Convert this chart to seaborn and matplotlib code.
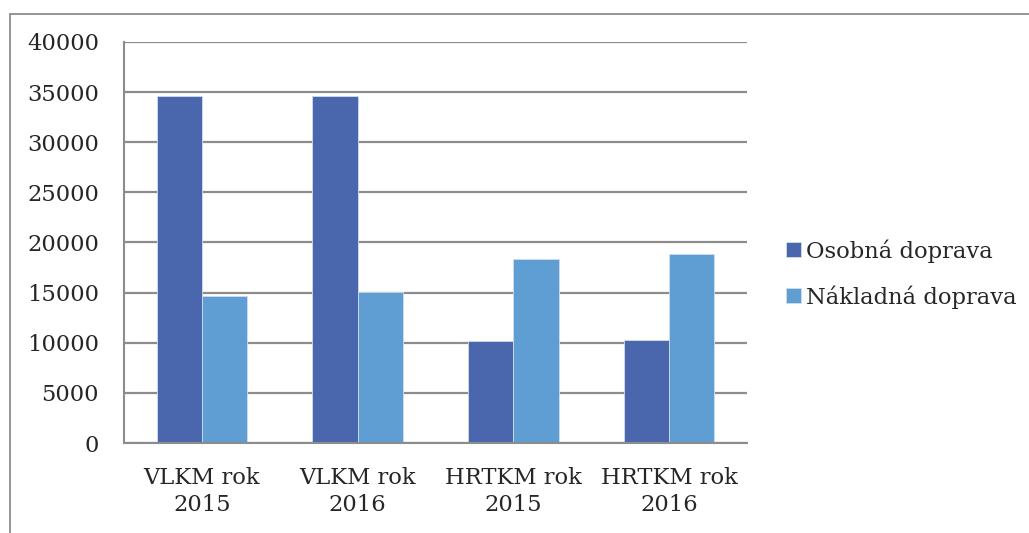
import pandas as pd
import matplotlib
matplotlib.use('Agg')
import matplotlib.pyplot as plt
from matplotlib.lines import Line2D
import seaborn as sns

# Data
kategorie = ['VLKM rok\n2015', 'VLKM rok\n2016', 'HRTKM rok\n2015', 'HRTKM rok\n2016']
osobna = [34600, 34600, 10150, 10300]
nakladna = [14650, 15100, 18400, 18900]
serie = ['Osobná doprava', 'Nákladná doprava']
farby = ['#4A66AC', '#5F9ED3']

df = pd.DataFrame({
    'kategoria': kategorie * 2,
    'hodnota': osobna + nakladna,
    'typ': [serie[0]] * 4 + [serie[1]] * 4,
})

sns.set_style('white')
plt.rcParams['font.family'] = ['DejaVu Serif']
font_size = 16.3
grid_col = '#8C8C8C'

fig = plt.figure(figsize=(10.29, 5.33), dpi=100)
ax = fig.add_axes([124 / 1029, 1 - 443 / 533, 623 / 1029, 401 / 533])

sns.barplot(data=df, x='kategoria', y='hodnota', hue='typ', palette=farby,
            width=0.58, ax=ax, edgecolor='#D0DDF0', linewidth=0.6, saturation=1)

ax.set_ylim(0, 40000)
ax.set_xlim(-0.5, 3.5)
ax.set_yticks(range(0, 40001, 5000))
ax.yaxis.grid(True, color=grid_col, linewidth=1.6)
ax.set_axisbelow(True)
ax.set_xlabel('')
ax.set_ylabel('')

# tick marks between categories, labels centred
ax.set_xticks(range(4))
ax.set_xticklabels(kategorie, fontsize=font_size, linespacing=1.3)
ax.set_xticks([i - 0.5 for i in range(5)], minor=True)
ax.tick_params(axis='x', which='major', length=0, pad=17)
ax.tick_params(axis='x', which='minor', length=6, width=1.3, color=grid_col, direction='out')
ax.tick_params(axis='y', length=5, width=1.6, color=grid_col, direction='out',
               labelsize=font_size, pad=13)

for side in ['top', 'right']:
    ax.spines[side].set_visible(False)
for side in ['left', 'bottom']:
    ax.spines[side].set_color(grid_col)
    ax.spines[side].set_linewidth(1.5)

ax.legend(loc='center left', bbox_to_anchor=(786 / 1029, 1 - 274 / 533),
          bbox_transform=fig.transFigure, frameon=False, fontsize=font_size,
          handlelength=0.65, handleheight=0.65, handletextpad=0.25,
          labelspacing=1.0, borderpad=0, borderaxespad=0)

# outer chart frame (left and top edges visible)
x0 = 9.5 / 1029
y1 = 1 - 13.5 / 533
fig.add_artist(Line2D([x0, x0], [0, y1], transform=fig.transFigure, color=grid_col, linewidth=1.3))
fig.add_artist(Line2D([x0, 1], [y1, y1], transform=fig.transFigure, color=grid_col, linewidth=1.3))

fig.savefig('out.png', dpi=100)
plt.close(fig)
